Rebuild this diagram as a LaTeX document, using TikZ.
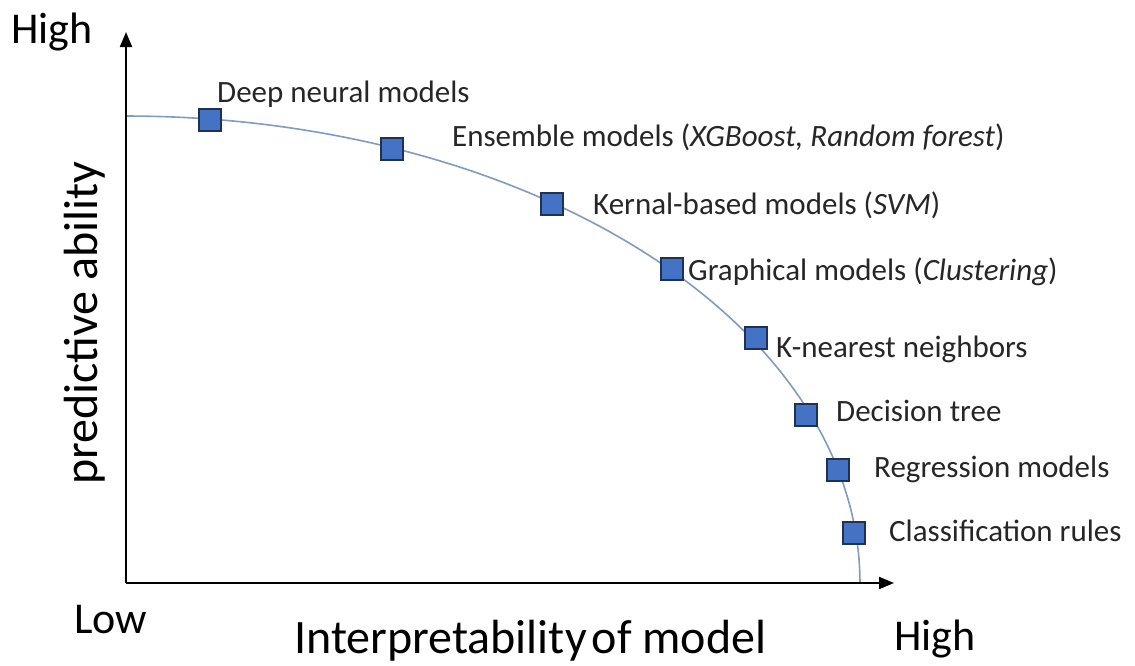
\documentclass[tikz,border=0pt]{standalone}
\usepackage{fontspec}
\setmainfont{Carlito}
\usetikzlibrary{arrows.meta}
\definecolor{boxfill}{HTML}{4472C4}
\definecolor{boxline}{HTML}{1F3350}
\definecolor{curvecol}{HTML}{7F9CBF}
\definecolor{txt}{HTML}{262626}
\tikzset{
  mark box/.style={draw=boxline, fill=boxfill, line width=1.2pt, minimum size=22pt, inner sep=0pt},
  item/.style={anchor=base west, inner sep=0pt, text=txt, font=\fontsize{31}{37}\selectfont},
  axislab/.style={inner sep=0pt, text=black, font=\fontsize{48}{56}\selectfont},
  endlab/.style={anchor=base west, inner sep=0pt, text=black, font=\fontsize{44}{52}\selectfont},
  axis line/.style={line width=2pt, -{Triangle[length=15pt,width=12pt]}}
}
\begin{document}
\begin{tikzpicture}[x=1pt,y=-1pt]
\useasboundingbox (0,0) rectangle (1135,665);
% curve
\draw[curvecol, line width=1.6pt] plot[domain=0:90, samples=120] ({126+734*cos(\x)}, {583-467*sin(\x)});
% axes
\coordinate (origin) at (126,583);
\coordinate (ytop) at (126,32);
\coordinate (xend) at (894,583);
\draw[axis line] (origin) -- (ytop);
\draw[axis line] (origin) -- (xend);
% markers
\node[mark box] (b1) at (210,120) {};
\node[mark box] (b2) at (392,149) {};
\node[mark box] (b3) at (552,204) {};
\node[mark box] (b4) at (672,269) {};
\node[mark box] (b5) at (756,338) {};
\node[mark box] (b6) at (806,415) {};
\node[mark box] (b7) at (838,470) {};
\node[mark box] (b8) at (854,533) {};
% labels
\node[item] (l1) at (217,102) {Deep neural models};
\node[item] (l2) at (452,146) {Ensemble models (\textit{XGBoost, Random forest})};
\node[item] (l3) at (593,214) {Kernal-based models (\textit{SVM})};
\node[item] (l4) at (688,280) {Graphical models (\textit{Clustering})};
\node[item] (l5) at (776,357) {K-nearest neighbors};
\node[item] (l6) at (836,421) {Decision tree};
\node[item] (l7) at (874,477) {Regression models};
\node[item] (l8) at (889,541) {Classification rules};
% axis labels
\node[endlab] (yhigh) at (11,43) {High};
\node[endlab] (xlow) at (74,633) {Low};
\node[endlab] (xhigh) at (894,650) {High};
\node[axislab, anchor=base west] (xlab) at (294,653) {Interpretability\hspace{-0.12em} of model};
\node[axislab, anchor=base, rotate=90] (ylab) at (97,323) {predictive ability};
\end{tikzpicture}
\end{document}
